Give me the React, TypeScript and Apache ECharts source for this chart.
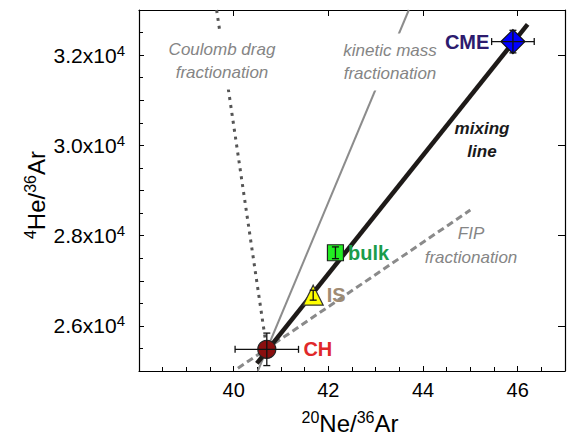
import React, { useEffect, useRef } from 'react';
import * as echarts from 'echarts';

// ---- data ----
const samples = ['CH', 'IS', 'bulk', 'CME'];
const neAr = [40.7, 41.68, 42.15, 45.9];
const heAr = [25480, 26680, 27620, 32300];
const neArErr = [0.67, 0, 0, 0.45];
const heArErr = [360, 110, 130, 250];

const xTickLabels = [40, 42, 44, 46];
const yTickLabels = [26000, 28000, 30000, 32000];

const mixingLineX = [40.49, 46.21];
const mixingLineY = [25170, 32680];
const kineticLineX = [40.51, 43.7];
const kineticLineY = [25000, 33000];
const coulombLineX = [39.64, 40.7];
const coulombLineY = [33000, 25480];
const fipLineX = [40.09, 45.0];
const fipLineY = [25060, 28566];

// ---- styles ----
const FONT = '"Liberation Sans", Arial, sans-serif';
const GRAY_TEXT = '#858585';
const GRID_LEFT = 139;
const Y_LABEL_MARGIN = 14;

const markerStyles: Record<string, any> = {
  CH: { symbol: 'circle', size: 18, fill: '#8a0f0f', border: '#222', label: '#e0282a', pos: 'right', dist: 27 },
  IS: { symbol: 'triangle', size: 20, fill: '#ffff00', border: '#333', label: '#a08b73', pos: 'right', dist: 3 },
  bulk: { symbol: 'rect', size: 16, fill: '#22ee22', border: '#222', label: '#1a9c4c', pos: 'right', dist: 4 },
  CME: { symbol: 'diamond', size: 24, fill: '#0000ff', border: '#111', label: '#2d1b6e', pos: 'left', dist: 11 },
};

const pairs = (xs: number[], ys: number[]) => xs.map((x, i) => [x, ys[i]]);

const supRich = (main: number, sup: number) => ({
  b: { fontSize: main, fontFamily: FONT, fill: '#000', color: '#000', lineHeight: main + 4 },
  s: { fontSize: sup, fontFamily: FONT, fill: '#000', color: '#000', lineHeight: sup, verticalAlign: 'top' },
});

export default function App() {
  const ref = useRef<HTMLDivElement>(null);
  useEffect(() => {
    if (!ref.current) return;
    const chart = echarts.init(ref.current, null, { renderer: 'svg' });

    const option: any = {
      animation: false,
      grid: { left: GRID_LEFT, top: 10, width: 435, height: 361 },
      xAxis: [
        {
          type: 'value', position: 'bottom', min: 38, max: 47, interval: 2,
          axisLine: { lineStyle: { color: '#000', width: 1.2 } },
          axisTick: { inside: true, length: 5, lineStyle: { color: '#000' } },
          minorTick: { show: true, splitNumber: 4, length: 4, lineStyle: { color: '#000' } },
          splitLine: { show: false },
          axisLabel: {
            margin: 9, fontSize: 20, fontFamily: FONT, color: '#000',
            formatter: (v: number) => (xTickLabels.includes(v) ? String(v) : ''),
          },
        },
        {
          type: 'value', position: 'top', min: 38, max: 47, interval: 2,
          axisLine: { lineStyle: { color: '#000', width: 1.2 } },
          axisTick: { inside: true, length: 6, lineStyle: { color: '#000' } },
          splitLine: { show: false },
          axisLabel: { show: false },
        },
      ],
      yAxis: [
        {
          type: 'value', position: 'left', min: 25000, max: 33000, interval: 1000,
          axisLine: { lineStyle: { color: '#000', width: 1.2 } },
          axisTick: { inside: true, length: 5, lineStyle: { color: '#000' } },
          minorTick: { show: true, splitNumber: 2, length: 4, lineStyle: { color: '#000' } },
          splitLine: { show: false },
          axisLabel: { show: false },
        },
        {
          type: 'value', position: 'right', min: 25000, max: 33000, interval: 1000,
          axisLine: { lineStyle: { color: '#000', width: 1.2 } },
          axisTick: { inside: true, length: 7, customValues: yTickLabels, lineStyle: { color: '#000' } },
          splitLine: { show: false },
          axisLabel: { show: false },
        },
      ],
      series: [
        {
          type: 'line', name: 'FIP fractionation', data: pairs(fipLineX, fipLineY),
          showSymbol: false, symbol: 'none', z: 2,
          lineStyle: { color: '#8a8a8a', width: 3, type: [7, 4] },
        },
        {
          type: 'line', name: 'kinetic mass fractionation', data: pairs(kineticLineX, kineticLineY),
          showSymbol: false, symbol: 'none', z: 2,
          lineStyle: { color: '#8c8c8c', width: 2 },
        },
        {
          type: 'line', name: 'Coulomb drag fractionation', data: pairs(coulombLineX, coulombLineY),
          showSymbol: false, symbol: 'none', z: 2,
          lineStyle: { color: '#555', width: 3, type: [3, 5] },
        },
        {
          type: 'line', name: 'mixing line', data: pairs(mixingLineX, mixingLineY),
          showSymbol: false, symbol: 'none', z: 3,
          lineStyle: { color: '#1e1a18', width: 4.5 },
        },
        {
          type: 'scatter', name: 'samples', z: 5,
          itemStyle: { opacity: 1 },
          data: samples.map((s, i) => {
            const m = markerStyles[s];
            return {
              name: s,
              value: [neAr[i], heAr[i]],
              symbol: m.symbol,
              symbolSize: m.size,
              itemStyle: { color: m.fill, borderColor: m.border, borderWidth: 1.2, opacity: 1 },
              label: {
                show: true, position: m.pos, distance: m.dist, formatter: s,
                color: m.label, fontSize: 20, fontWeight: 'bold', fontFamily: FONT, opacity: 1,
              },
            };
          }),
        },
        {
          type: 'custom', name: 'errors', z: 6,
          data: samples.map((s, i) => [neAr[i], heAr[i], neArErr[i], heArErr[i]]),
          encode: { x: 0, y: 1 },
          renderItem: (params: any, api: any) => {
            const x = api.value(0), y = api.value(1), ex = api.value(2), ey = api.value(3);
            const style = { stroke: '#111', lineWidth: 1.3 };
            const cap = 3.5;
            const children: any[] = [];
            if (ex > 0) {
              const l = api.coord([x - ex, y]);
              const r = api.coord([x + ex, y]);
              children.push({ type: 'line', shape: { x1: l[0], y1: l[1], x2: r[0], y2: r[1] }, style });
              children.push({ type: 'line', shape: { x1: l[0], y1: l[1] - cap, x2: l[0], y2: l[1] + cap }, style });
              children.push({ type: 'line', shape: { x1: r[0], y1: r[1] - cap, x2: r[0], y2: r[1] + cap }, style });
            }
            if (ey > 0) {
              const t = api.coord([x, y + ey]);
              const b = api.coord([x, y - ey]);
              children.push({ type: 'line', shape: { x1: t[0], y1: t[1], x2: b[0], y2: b[1] }, style });
              children.push({ type: 'line', shape: { x1: t[0] - cap, y1: t[1], x2: t[0] + cap, y2: t[1] }, style });
              children.push({ type: 'line', shape: { x1: b[0] - cap, y1: b[1], x2: b[0] + cap, y2: b[1] }, style });
            }
            return { type: 'group', children };
          },
        },
      ],
    };

    chart.setOption(option);

    const annotations: any[] = [
      {
        type: 'text', x: 222, y: 61, z: 100,
        style: {
          text: 'Coulomb drag\nfractionation', fill: GRAY_TEXT, fontSize: 17, fontStyle: 'italic',
          fontFamily: FONT, lineHeight: 23, textAlign: 'center', align: 'center',
          textVerticalAlign: 'middle', verticalAlign: 'middle',
          backgroundColor: '#fff', padding: [7, 3, 4, 3],
        },
      },
      {
        type: 'text', x: 390, y: 62, z: 100,
        style: {
          text: 'kinetic mass\nfractionation', fill: GRAY_TEXT, fontSize: 17, fontStyle: 'italic',
          fontFamily: FONT, lineHeight: 23, textAlign: 'center', align: 'center',
          textVerticalAlign: 'middle', verticalAlign: 'middle',
          backgroundColor: '#fff', padding: [7, 3, 4, 3],
        },
      },
      {
        type: 'text', x: 482, y: 140, z: 100,
        style: {
          text: 'mixing\nline', fill: '#1a1a1a', fontSize: 17, fontStyle: 'italic', fontWeight: 'bold',
          fontFamily: FONT, lineHeight: 23.5, textAlign: 'center', align: 'center',
          textVerticalAlign: 'middle', verticalAlign: 'middle',
        },
      },
      {
        type: 'text', x: 471, y: 245, z: 100,
        style: {
          text: 'FIP\nfractionation', fill: GRAY_TEXT, fontSize: 17, fontStyle: 'italic',
          fontFamily: FONT, lineHeight: 24, textAlign: 'center', align: 'center',
          textVerticalAlign: 'middle', verticalAlign: 'middle',
        },
      },
      {
        type: 'text', x: 350, y: 423, z: 100,
        style: {
          text: '{s|20}{b|Ne/}{s|36}{b|Ar}', textAlign: 'center', align: 'center',
          textVerticalAlign: 'middle', verticalAlign: 'middle',
          rich: supRich(24, 16),
        },
      },
      {
        type: 'text', x: 36, y: 195, z: 100, rotation: Math.PI / 2,
        style: {
          text: '{s|4}{b|He/}{s|36}{b|Ar}', textAlign: 'center', align: 'center',
          textVerticalAlign: 'middle', verticalAlign: 'middle',
          rich: supRich(24, 16),
        },
      },
    ];

    // y tick labels, placed through the axis scale
    const yLabels = yTickLabels.map((v) => {
      const py = chart.convertToPixel({ yAxisIndex: 0 }, v) as number;
      return {
        type: 'text', x: GRID_LEFT - Y_LABEL_MARGIN, y: py, z: 100,
        style: {
          text: `{b|${(v / 10000).toFixed(1)}x10}{s|4}`,
          textAlign: 'right', align: 'right',
          textVerticalAlign: 'middle', verticalAlign: 'middle',
          rich: supRich(21, 15),
        },
      };
    });

    chart.setOption({ graphic: [...annotations, ...yLabels] });
    return () => chart.dispose();
  }, []);

  return (
    <div
      ref={ref}
      style={{ position: 'fixed', left: 0, top: 0, width: 568, height: 442, background: '#fff' }}
    />
  );
}
